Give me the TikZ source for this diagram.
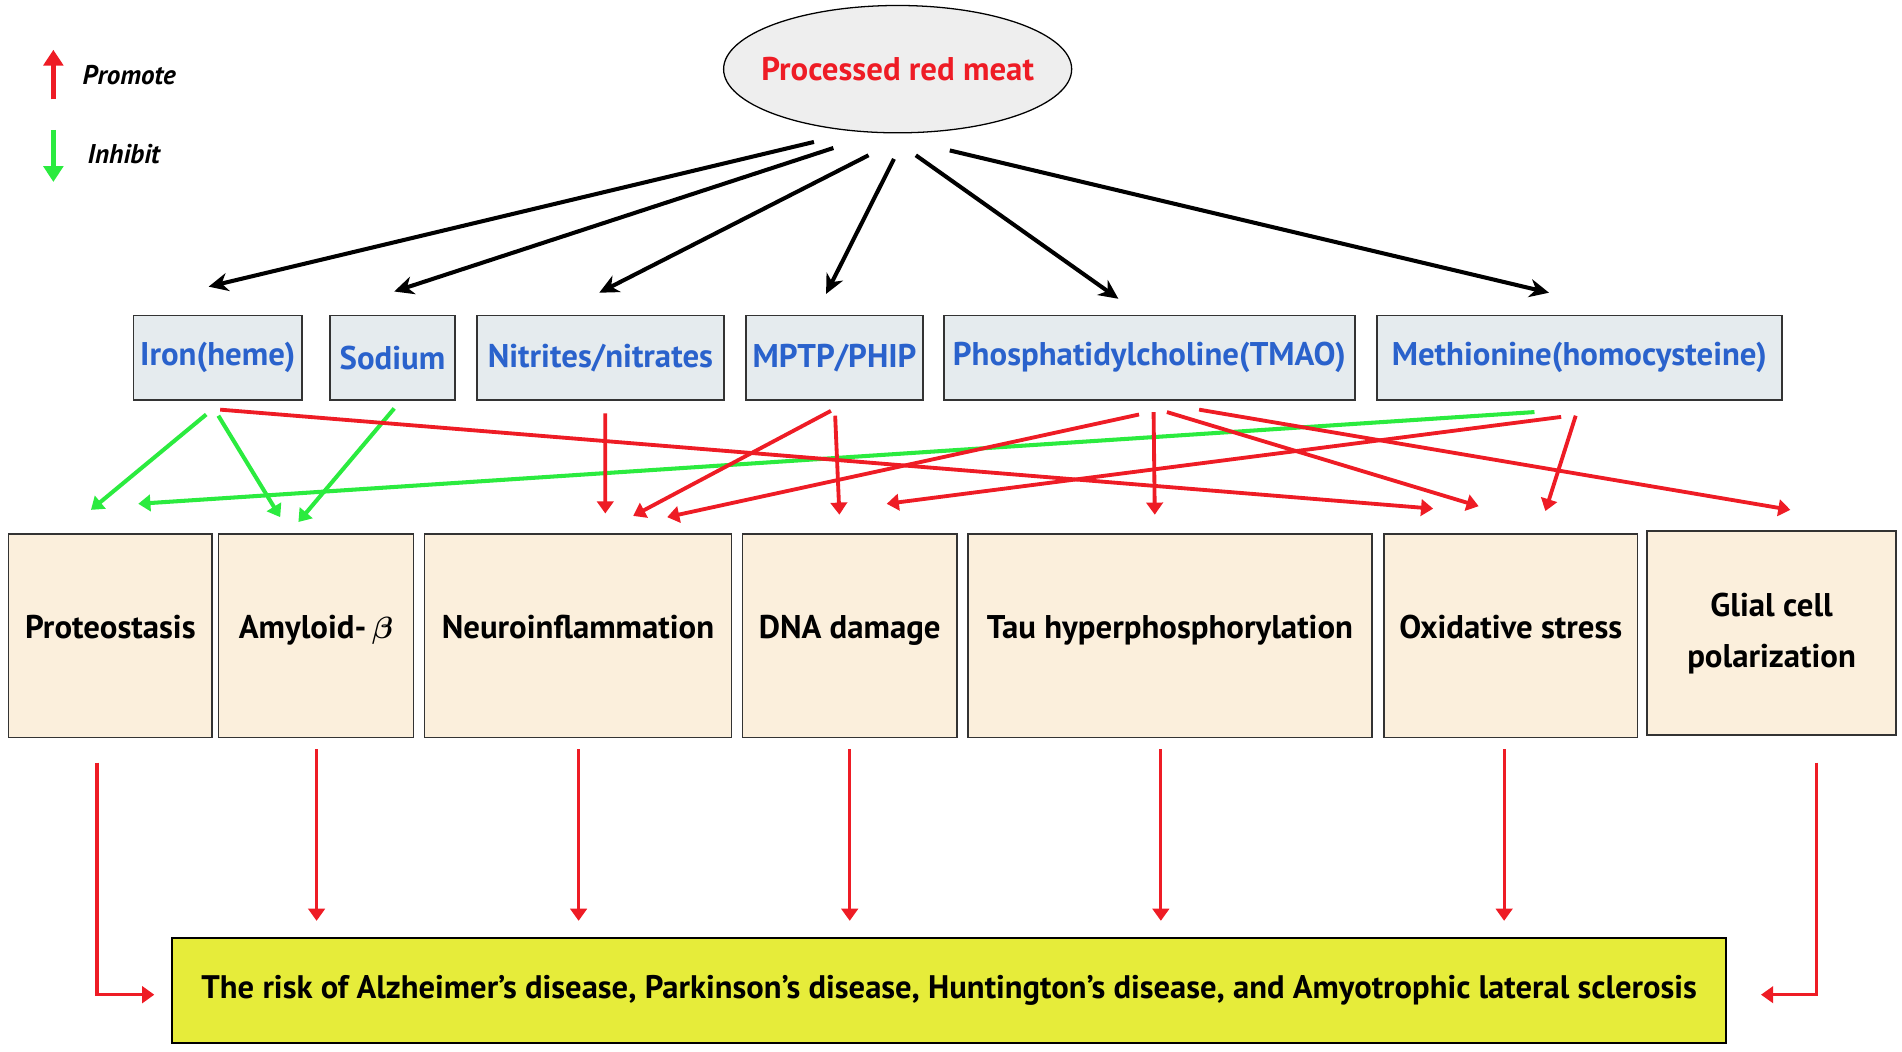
\documentclass[tikz,border=0pt]{standalone}
\usepackage{fontspec}
\setmainfont{PT Sans}
\usepackage{bm}
\usetikzlibrary{arrows.meta, calc, shapes.geometric}
\usepackage{xcolor}
\definecolor{promred}{HTML}{EE1C25}
\definecolor{inhgreen}{HTML}{2BEB3F}
\definecolor{agentblue}{HTML}{2A62CC}
\definecolor{agentfill}{HTML}{E5EBEE}
\definecolor{effectfill}{HTML}{FBEFDC}
\definecolor{riskfill}{HTML}{E6EC3A}
\definecolor{meatfill}{HTML}{EEEEEE}
\definecolor{boxline}{HTML}{333333}

\begin{document}
\begin{tikzpicture}[x=0.02cm, y=-0.02cm,
    agent/.style={draw=boxline, line width=0.8pt, fill=agentfill, minimum height=1.4cm, inner sep=0pt, text=agentblue, font=\bfseries\fontsize{15.4}{18}\selectfont},
    effect/.style={draw=boxline, line width=0.8pt, fill=effectfill, minimum height=3.36cm, inner sep=0pt, align=center, font=\bfseries\fontsize{15.4}{24}\selectfont},
    mech/.style={effect, text height=0.4cm, text depth=0.3cm},
    feed/.style={-{Stealth[length=0.32cm, width=0.3cm, inset=0.1cm]}, line width=1.9pt},
    promote/.style={promred, line width=1.8pt, -{Triangle[length=0.2cm, width=0.27cm]}},
    inhibit/.style={inhgreen, line width=1.9pt, -{Triangle[length=0.2cm, width=0.27cm]}},
    legend/.style={font=\bfseries\itshape\fontsize{12.7}{14}\selectfont, anchor=west}
  ]
    \useasboundingbox (0,0) rectangle (1568,867);

    % legend
    \coordinate (promtail) at (44,82);
    \coordinate (promtip) at (44,41);
    \draw[promred, line width=2.3pt, -{Triangle[length=0.26cm, width=0.32cm]}] (promtail) -- (promtip);
    \node[legend] (promlabel) at (62,62) {Promote};
    \coordinate (inhtail) at (44,107);
    \coordinate (inhtip) at (44,150);
    \draw[inhgreen, line width=2.3pt, -{Triangle[length=0.26cm, width=0.32cm]}] (inhtail) -- (inhtip);
    \node[legend] (inhlabel) at (66,127) {Inhibit};

    \node[ellipse, draw=black, line width=0.6pt, fill=meatfill, minimum width=5.74cm, minimum height=2.1cm, inner xsep=-0.4cm, inner ysep=0pt, text=promred, font=\bfseries\fontsize{15.4}{18}\selectfont] (meat) at (740,57) {Processed red meat};

    % components
    \node[agent, minimum width=2.78cm] (iron) at (179.5,295) {Iron(heme)};
    \node[agent, minimum width=2.06cm] (sodium) at (323.5,295) {Sodium};
    \node[agent, minimum width=4.08cm] (nitr) at (495,295) {Nitrites/nitrates};
    \node[agent, minimum width=2.92cm] (mptp) at (688,295) {MPTP/PHIP};
    \node[agent, minimum width=6.78cm] (pc) at (947.5,295) {Phosphatidylcholine(TMAO)};
    \node[agent, minimum width=6.68cm] (meth) at (1302,295) {Methionine(homocysteine)};

    % mechanisms
    \node[mech, minimum width=3.36cm] (proteo) at (91,524) {Proteostasis};
    \node[mech, minimum width=3.22cm] (amyl) at (260.5,524) {Amyloid-\,$\bm{\beta}$};
    \node[mech, minimum width=5.06cm] (neuro) at (476.5,524) {Neuroinflammation};
    \node[mech, minimum width=3.54cm] (dna) at (700.5,524) {DNA damage};
    \node[mech, minimum width=6.66cm] (tau) at (964.5,524) {Tau hyperphosphorylation};
    \node[mech, minimum width=4.18cm] (oxid) at (1245.5,524) {Oxidative stress};
    \node[effect, minimum width=4.10cm] (glial) at (1460.5,522) {Glial cell\\polarization};

    \node[draw=black, line width=1pt, fill=riskfill, minimum width=25.62cm, minimum height=1.74cm, font=\bfseries\fontsize{15.3}{18}\selectfont] (risk) at (782.5,816.5) {The risk of Alzheimer’s disease, Parkinson’s disease, Huntington’s disease, and Amyotrophic lateral sclerosis};

    \foreach \t/\sx/\sy/\tx/\ty in {iron/-69/7/-7.5/-23, sodium/-53/12/1.5/-19, nitr/-24/18/-1/-18, mptp/-3/21/-7/-17, pc/15/18/-25.5/-13, meth/43/14/-25/-18}
      \draw[feed] ($(meat.south)+(\sx,\sy)$) -- ($(\t.north)+(\tx,\ty)$);

    \foreach \s/\sx/\sy/\t/\tx/\ty in {iron/-9.5/11/proteo/-16/-19, iron/0.5/12/amyl/-29.5/-13, sodium/1.5/6/amyl/-14.5/-9, meth/-37/9/proteo/23/-24}
      \draw[inhibit] ($(\s.south)+(\sx,\sy)$) -- ($(\t.north)+(\tx,\ty)$);

    \foreach \s/\sx/\sy/\t/\tx/\ty in {nitr/4/10/neuro/22.5/-16, mptp/-3/8/neuro/45.5/-14, pc/-8.5/11/neuro/73.5/-13, mptp/0.5/12/dna/-8.5/-15, meth/-15/13/dna/30.5/-24, pc/3.5/9/tau/-12.5/-15, iron/2/7/oxid/-64/-20, pc/14.5/9/oxid/-26.5/-22, meth/-3/12/oxid/28.5/-18, pc/41/7/glial/15.5/-17}
      \draw[promote] ($(\s.south)+(\sx,\sy)$) -- ($(\t.north)+(\tx,\ty)$);

    \foreach \n/\dx in {amyl/0.5, neuro/0.5, dna/0, tau/-7.5, oxid/-5.5}
      \draw[promote, line width=1.5pt] ($(\n.south)+(\dx,9)$) -- ($(\n.south |- risk.north)+(\dx,-13)$);
    \draw[promote, line width=1.6pt] ($(proteo.south)+(-11,20)$) |- ($(risk.west)+(-14,3.5)$);
    \draw[promote, line width=1.6pt] ($(glial.south)+(37,22)$) |- ($(risk.east)+(28,3.5)$);
\end{tikzpicture}
\end{document}
